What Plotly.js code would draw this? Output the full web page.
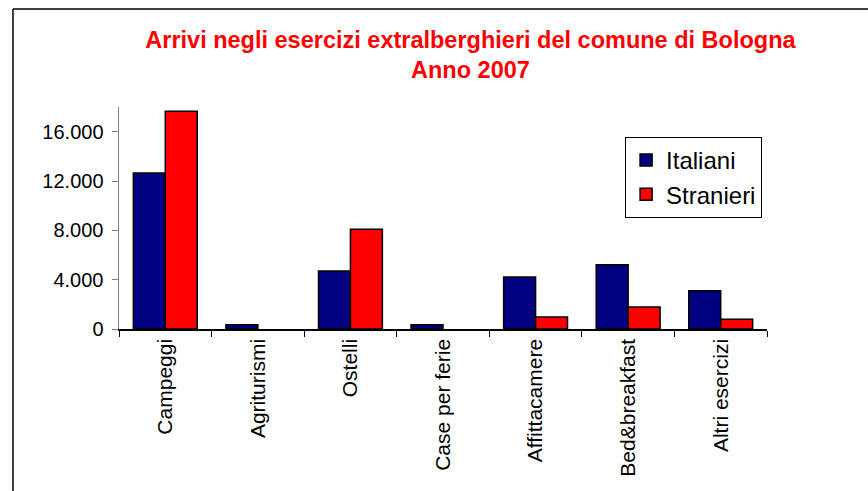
<!DOCTYPE html>
<html>
<head>
<meta charset="utf-8">
<script src="https://cdn.plot.ly/plotly-3.0.1.min.js"></script>
<style>html,body{margin:0;padding:0;background:#fff;}#chart{width:868px;height:491px;}</style>
</head>
<body>
<div id="chart"></div>
<script>
const categories = ["Campeggi", "Agriturismi", "Ostelli", "Case per ferie", "Affittacamere", "Bed&breakfast", "Altri esercizi"];
const italiani = [12650, 350, 4700, 350, 4220, 5210, 3110];
const stranieri = [17650, null, 8090, null, 970, 1790, 800];
const seriesNames = ["Italiani", "Stranieri"];
const tickVals = [0, 4000, 8000, 12000, 16000];

const traces = [
  {type: 'bar', x: categories, y: italiani, name: seriesNames[0], legendgroup: 'a',
   marker: {color: '#000080', line: {color: '#000000', width: 1.5}}},
  {type: 'bar', x: categories, y: stranieri, name: seriesNames[1], legendgroup: 'b',
   marker: {color: '#FF0000', line: {color: '#000000', width: 1.5}}}
];

const layout = {
  width: 868, height: 491,
  margin: {l: 119, r: 101, t: 107, b: 162},
  paper_bgcolor: '#ffffff', plot_bgcolor: '#ffffff',
  separators: ',.',
  font: {family: 'Liberation Sans, Arial, sans-serif', color: '#000', size: 20},
  title: {text: 'Arrivi negli esercizi extralberghieri del comune di Bologna<br>Anno 2007',
    font: {family: 'Liberation Sans, Arial, sans-serif', size: 23.5, color: '#FF0000', weight: 'bold'},
    x: 0.542, xanchor: 'center', y: 0.903, yanchor: 'top'},
  barmode: 'group', bargap: 0.31, bargroupgap: 0,
  showlegend: true,
  legend: {x: 0.781, y: 0.865, xanchor: 'left', yanchor: 'top',
    bgcolor: '#fff', bordercolor: '#000', borderwidth: 1,
    font: {size: 24, color: '#000'}, tracegroupgap: 8, traceorder: 'normal'},
  xaxis: {type: 'category', showline: true, linecolor: '#000', linewidth: 1.5,
    ticks: 'outside', ticklen: 6, tickcolor: '#000', tickson: 'boundaries',
    tickangle: -90, tickfont: {size: 21}, showgrid: false, zeroline: false},
  yaxis: {range: [0, 18000], tickvals: tickVals, tickformat: ',d', showline: true,
    linecolor: '#808080', linewidth: 1.5, ticks: 'outside', ticklen: 6, tickcolor: '#808080',
    showgrid: false, zeroline: false, tickfont: {size: 20}, ticklabelstandoff: 4},
  shapes: [
    {type: 'line', xref: 'paper', yref: 'paper', x0: -0.1636, x1: 1.16, y0: 1.441, y1: 1.441,
     line: {color: '#000', width: 1.5}},
    {type: 'line', xref: 'paper', yref: 'paper', x0: -0.1636, x1: -0.1636, y0: 1.441, y1: -0.74,
     line: {color: '#000', width: 1.5}}
  ]
};

Plotly.newPlot('chart', traces, layout, {displayModeBar: false, staticPlot: true});
</script>
</body>
</html>
